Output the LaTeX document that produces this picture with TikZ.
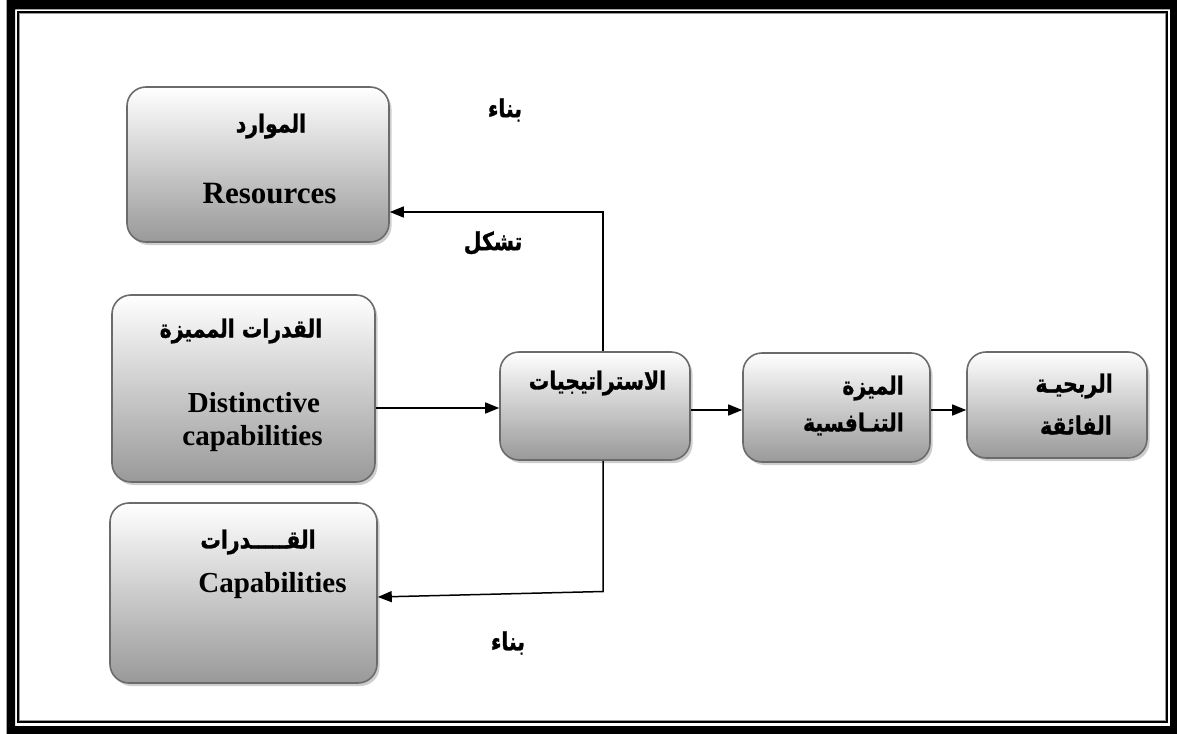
\documentclass[tikz,border=0pt]{standalone}
\usepackage{fontspec}
\usepackage{graphicx}
\usetikzlibrary{arrows.meta,shadows,calc}
\setmainfont{Liberation Serif}
\newfontfamily\arabicfont[Script=Arabic,BoldFeatures={FakeBold=1.2}]{DejaVu Sans}
\TeXXeTstate=1
% Arabic (right to left) and bold Latin text
\newcommand{\artxt}[1]{\scalebox{0.85}[1.03]{\arabicfont\bfseries\fontsize{24}{28}\selectfont\beginR #1\endR}}
\newcommand{\entxt}[2][29]{{\bfseries\fontsize{#1}{#1}\selectfont #2}}
\tikzset{
  panel/.style={draw=black!58, line width=1.6pt, rounded corners=19pt,
    top color=white, bottom color=black!40, inner sep=0pt,
    drop shadow={shadow xshift=2.5pt, shadow yshift=-3pt, fill=black!35, opacity=.55}},
  txt/.style={inner sep=0pt},
  link/.style={line width=1.5pt, -{Triangle[length=14pt,width=11pt]}},
}
\begin{document}
\begin{tikzpicture}[x=1pt,y=-1pt]
\useasboundingbox (0,0) rectangle (1177,733);
\fill[white] (0,0) rectangle (1177,733);
% double frame
\fill[black,even odd rule] (6.5,-3) rectangle (1180,736) (15,9.3) rectangle (1170,726);
\draw[black,line width=1.7pt] (18.1,11.9) rectangle (1166.9,722.1);
\draw[black!40,line width=1pt] (19.5,13.4) rectangle (1165.4,720.6);

% boxes
\node[panel, minimum width=262pt, minimum height=155pt] (res) at (258,164.5) {};
\node[panel, minimum width=263pt, minimum height=187pt] (dist) at (243.5,388.5) {};
\node[panel, minimum width=267pt, minimum height=180pt] (cap) at (243.5,593) {};
\node[panel, minimum width=190pt, minimum height=108pt] (strat) at (595,406) {};
\node[panel, minimum width=187pt, minimum height=109pt] (comp) at (836.5,407.5) {};
\node[panel, minimum width=180pt, minimum height=106pt] (prof) at (1057,405) {};

% box texts
\node[txt] (resAr) at (271,126) {\artxt{الموارد}};
\node[txt, anchor=base] (resEn) at (269.5,203) {\entxt[31]{Resources}};
\node[txt] (distAr) at (241,331) {\artxt{القدرات المميزة}};
\node[txt, anchor=base] (distEn1) at (254,412) {\entxt{Distinctive}};
\node[txt, anchor=base] (distEn2) at (252.5,445) {\entxt{capabilities}};
\node[txt] (capAr) at (258,542) {\artxt{القـــــدرات}};
\node[txt, anchor=base] (capEn) at (272.5,592) {\entxt{Capabilities}};
\node[txt] (stratAr) at (597.5,383) {\artxt{الاستراتيجيات}};
\node[txt, anchor=east] (compAr1) at (904,388) {\artxt{الميزة}};
\node[txt, anchor=east] (compAr2) at (904,424) {\artxt{التنـافسية}};
\node[txt, anchor=east] (profAr1) at (1113,386) {\artxt{الربحيـة}};
\node[txt, anchor=east] (profAr2) at (1112,425) {\artxt{الفائقة}};

% connector labels
\node[txt] (lbBuild1) at (505,110) {\artxt{بناء}};
\node[txt] (lbShape) at (493,243) {\artxt{تشكل}};
\node[txt] (lbBuild2) at (508,643) {\artxt{بناء}};

% connectors
\coordinate (upY) at (0,212);
\coordinate (stemX) at (603,0);
\coordinate (midY) at (0,408);
\coordinate (rowY) at (0,410);
\coordinate (downBend) at (603,591.5);
\coordinate (downY) at (0,597);
\draw[link] (strat.north -| stemX) |- (res.east |- upY);
\draw[link] (dist.east |- midY) -- (strat.west |- midY);
\draw[link] (strat.east |- rowY) -- (comp.west |- rowY);
\draw[link] (comp.east |- rowY) -- (prof.west |- rowY);
\draw[link] (strat.south -| stemX) -- (downBend) -- (cap.east |- downY);
\end{tikzpicture}
\end{document}
